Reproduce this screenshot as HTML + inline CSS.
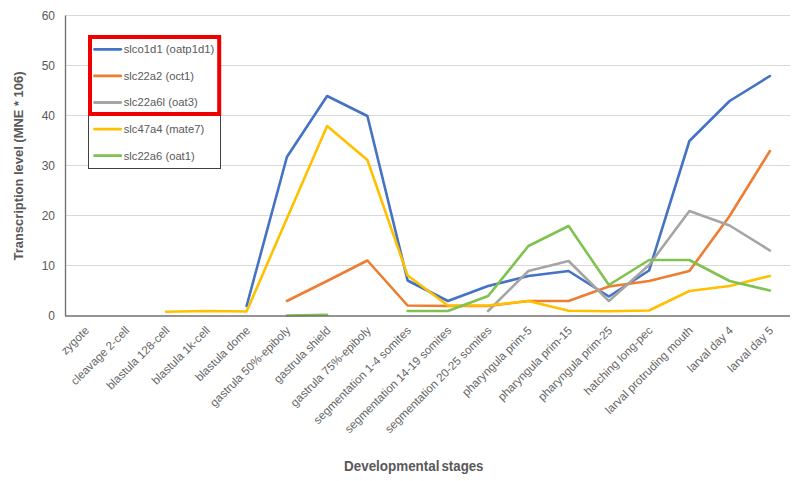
<!DOCTYPE html>
<html><head><meta charset="utf-8"><style>
html,body{margin:0;padding:0;background:#fff;}
svg{display:block;}
text{font-family:"Liberation Sans",sans-serif;fill:#595959;}
.ax{font-size:12px;}
.cat{font-size:11.55px;fill:#656565;}
.leg{font-size:11.5px;}
.ttl{font-size:13px;font-weight:bold;}
</style></head><body>
<svg width="802" height="481" viewBox="0 0 802 481">
<line x1="65.5" y1="265.5" x2="790.0" y2="265.5" stroke="#D9D9D9" stroke-width="1"/>
<line x1="65.5" y1="215.5" x2="790.0" y2="215.5" stroke="#D9D9D9" stroke-width="1"/>
<line x1="65.5" y1="165.5" x2="790.0" y2="165.5" stroke="#D9D9D9" stroke-width="1"/>
<line x1="65.5" y1="115.5" x2="790.0" y2="115.5" stroke="#D9D9D9" stroke-width="1"/>
<line x1="65.5" y1="65.5" x2="790.0" y2="65.5" stroke="#D9D9D9" stroke-width="1"/>
<line x1="65.5" y1="15.5" x2="790.0" y2="15.5" stroke="#D9D9D9" stroke-width="1"/>
<text x="55" y="319.8" text-anchor="end" class="ax">0</text>
<text x="55" y="269.8" text-anchor="end" class="ax">10</text>
<text x="55" y="219.8" text-anchor="end" class="ax">20</text>
<text x="55" y="169.8" text-anchor="end" class="ax">30</text>
<text x="55" y="119.8" text-anchor="end" class="ax">40</text>
<text x="55" y="69.8" text-anchor="end" class="ax">50</text>
<text x="55" y="19.8" text-anchor="end" class="ax">60</text>
<polyline points="246.6,306.0 286.9,157.0 327.1,96.0 367.4,116.0 407.6,280.5 447.9,301.0 488.1,286.0 528.4,276.0 568.6,271.0 608.9,296.5 649.1,270.5 689.4,141.0 729.6,101.0 769.9,76.0" fill="none" stroke="#4472C4" stroke-width="2.6" stroke-linejoin="round" stroke-linecap="round"/>
<polyline points="286.9,301.0 327.1,281.0 367.4,260.5 407.6,305.5 447.9,306.0 488.1,306.0 528.4,301.0 568.6,301.0 608.9,286.5 649.1,281.0 689.4,271.0 729.6,216.0 769.9,151.0" fill="none" stroke="#ED7D31" stroke-width="2.6" stroke-linejoin="round" stroke-linecap="round"/>
<polyline points="488.1,311.0 528.4,271.0 568.6,261.0 608.9,301.0 649.1,265.0 689.4,211.0 729.6,225.5 769.9,250.5" fill="none" stroke="#A5A5A5" stroke-width="2.6" stroke-linejoin="round" stroke-linecap="round"/>
<polyline points="166.1,311.8 206.4,311.0 246.6,311.5 286.9,218.5 327.1,126.0 367.4,160.0 407.6,275.5 447.9,305.5 488.1,305.5 528.4,301.0 568.6,310.8 608.9,311.2 649.1,310.5 689.4,291.0 729.6,286.0 769.9,276.0" fill="none" stroke="#FFC000" stroke-width="2.6" stroke-linejoin="round" stroke-linecap="round"/>
<polyline points="286.9,315.5 327.1,314.8" fill="none" stroke="#80C250" stroke-width="2.6" stroke-linejoin="round" stroke-linecap="round"/>
<polyline points="407.6,311.0 447.9,311.0 488.1,296.0 528.4,246.0 568.6,226.0 608.9,285.0 649.1,260.0 689.4,260.0 729.6,281.0 769.9,290.5" fill="none" stroke="#80C250" stroke-width="2.6" stroke-linejoin="round" stroke-linecap="round"/>
<line x1="65.5" y1="15.5" x2="65.5" y2="316" stroke="#707070" stroke-width="1.35"/>
<line x1="65" y1="316" x2="790.0" y2="316" stroke="#707070" stroke-width="1.35"/>
<text transform="translate(84.1,325.5) rotate(-45)" text-anchor="end" class="cat" dy="8">zygote</text>
<text transform="translate(124.4,325.5) rotate(-45)" text-anchor="end" class="cat" dy="8">cleavage 2-cell</text>
<text transform="translate(164.6,325.5) rotate(-45)" text-anchor="end" class="cat" dy="8">blastula 128-cell</text>
<text transform="translate(204.9,325.5) rotate(-45)" text-anchor="end" class="cat" dy="8">blastula 1k-cell</text>
<text transform="translate(245.1,325.5) rotate(-45)" text-anchor="end" class="cat" dy="8">blastula dome</text>
<text transform="translate(285.4,325.5) rotate(-45)" text-anchor="end" class="cat" dy="8">gastrula 50%-epiboly</text>
<text transform="translate(325.6,325.5) rotate(-45)" text-anchor="end" class="cat" dy="8">gastrula shield</text>
<text transform="translate(365.9,325.5) rotate(-45)" text-anchor="end" class="cat" dy="8">gastrula 75%-epiboly</text>
<text transform="translate(406.1,325.5) rotate(-45)" text-anchor="end" class="cat" dy="8">segmentation 1-4 somites</text>
<text transform="translate(446.4,325.5) rotate(-45)" text-anchor="end" class="cat" dy="8">segmentation 14-19 somites</text>
<text transform="translate(486.6,325.5) rotate(-45)" text-anchor="end" class="cat" dy="8">segmentation 20-25 somites</text>
<text transform="translate(526.9,325.5) rotate(-45)" text-anchor="end" class="cat" dy="8">pharyngula prim-5</text>
<text transform="translate(567.1,325.5) rotate(-45)" text-anchor="end" class="cat" dy="8">pharyngula prim-15</text>
<text transform="translate(607.4,325.5) rotate(-45)" text-anchor="end" class="cat" dy="8">pharyngula prim-25</text>
<text transform="translate(647.6,325.5) rotate(-45)" text-anchor="end" class="cat" dy="8">hatching long-pec</text>
<text transform="translate(687.9,325.5) rotate(-45)" text-anchor="end" class="cat" dy="8">larval protruding mouth</text>
<text transform="translate(728.1,325.5) rotate(-45)" text-anchor="end" class="cat" dy="8">larval day 4</text>
<text transform="translate(768.4,325.5) rotate(-45)" text-anchor="end" class="cat" dy="8">larval day 5</text>
<text x="344" y="471" class="ttl" style="font-size:13.8px" textLength="95.5" lengthAdjust="spacingAndGlyphs">Developmental</text>
<text x="441.5" y="471" class="ttl" style="font-size:13.8px" textLength="42" lengthAdjust="spacingAndGlyphs">stages</text>
<text transform="translate(23,166) rotate(-90)" text-anchor="middle" class="ttl" textLength="189" lengthAdjust="spacingAndGlyphs">Transcription level (MNE * 106)</text>
<rect x="88.5" y="35.5" width="132" height="133" fill="#fff" stroke="#404040" stroke-width="1"/>
<line x1="94.5" y1="49.3" x2="120.8" y2="49.3" stroke="#4472C4" stroke-width="2.8" stroke-linecap="round"/>
<text x="123.7" y="53.1" class="leg" textLength="90.6" lengthAdjust="spacingAndGlyphs">slco1d1 (oatp1d1)</text>
<line x1="94.5" y1="75.9" x2="120.8" y2="75.9" stroke="#ED7D31" stroke-width="2.8" stroke-linecap="round"/>
<text x="123.7" y="79.7" class="leg" textLength="70.4" lengthAdjust="spacingAndGlyphs">slc22a2 (oct1)</text>
<line x1="94.5" y1="102.5" x2="120.8" y2="102.5" stroke="#A5A5A5" stroke-width="2.8" stroke-linecap="round"/>
<text x="123.7" y="106.3" class="leg" textLength="74.0" lengthAdjust="spacingAndGlyphs">slc22a6l (oat3)</text>
<line x1="94.5" y1="129.1" x2="120.8" y2="129.1" stroke="#FFC000" stroke-width="2.8" stroke-linecap="round"/>
<text x="123.7" y="132.9" class="leg" textLength="80.5" lengthAdjust="spacingAndGlyphs">slc47a4 (mate7)</text>
<line x1="94.5" y1="155.7" x2="120.8" y2="155.7" stroke="#80C250" stroke-width="2.8" stroke-linecap="round"/>
<text x="123.7" y="159.5" class="leg" textLength="71.0" lengthAdjust="spacingAndGlyphs">slc22a6 (oat1)</text>
<rect x="90" y="37" width="129.2" height="77" fill="none" stroke="#EE0000" stroke-width="4"/>
</svg>
</body></html>
